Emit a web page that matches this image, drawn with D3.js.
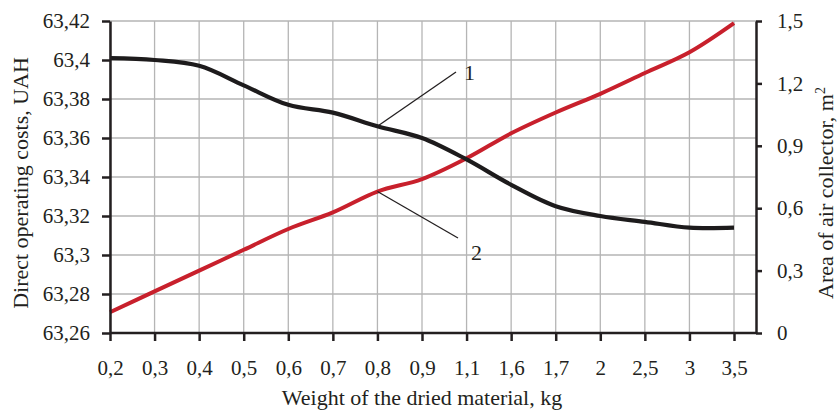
<!DOCTYPE html>
<html>
<head>
<meta charset="utf-8">
<script src="https://cdn.jsdelivr.net/npm/d3@7"></script>
<style>
  body { margin: 0; background: #fff; }
  svg text { font-family: "Liberation Serif", "Times New Roman", serif; fill: #231f20; }
  .grid line { stroke: #b5b5b5; stroke-width: 1.3; }
  .axis path, .axis line { stroke: #231f20; stroke-width: 2.5; }
  .axis text { font-size: 21px; }
  .axis-label { font-size: 22px; }
  .curve-label { font-size: 22px; }
</style>
</head>
<body>
<div id="chart"></div>
<script>
// weight of the dried material, kg
const weights = ["0,2", "0,3", "0,4", "0,5", "0,6", "0,7", "0,8", "0,9", "1,1", "1,6", "1,7", "2", "2,5", "3", "3,5"];
// curve 1: direct operating costs, UAH
const costs = [63.401, 63.400, 63.397, 63.387, 63.377, 63.373, 63.366, 63.360, 63.349, 63.336, 63.325, 63.320, 63.317, 63.314, 63.314];
// curve 2: area of air collector, m2
const areas = [0.10, 0.20, 0.30, 0.40, 0.50, 0.58, 0.68, 0.74, 0.84, 0.96, 1.06, 1.15, 1.25, 1.35, 1.49];

const costTicks = [63.26, 63.28, 63.3, 63.32, 63.34, 63.36, 63.38, 63.4, 63.42];
const areaTicks = [0, 0.3, 0.6, 0.9, 1.2, 1.5];

const W = 838, H = 411;
const plot = { left: 110, right: 756, top: 21, bottom: 333 };
const lastX = 734;

const comma = v => d3.format("~f")(+v.toFixed(2)).replace(".", ",");

const svg = d3.select("#chart").append("svg")
  .attr("width", W)
  .attr("height", H);

const x = d3.scalePoint()
  .domain(weights)
  .range([plot.left, lastX]);

const yCost = d3.scaleLinear()
  .domain([63.26, 63.42])
  .range([plot.bottom, plot.top]);

const yArea = d3.scaleLinear()
  .domain([0, 1.5])
  .range([plot.bottom, plot.top]);

// grid
const grid = svg.append("g").attr("class", "grid");
grid.selectAll(".hg")
  .data(costTicks)
  .join("line")
    .attr("x1", plot.left)
    .attr("x2", plot.right)
    .attr("y1", d => yCost(d))
    .attr("y2", d => yCost(d));
grid.selectAll(".vg")
  .data(weights)
  .join("line")
    .attr("x1", d => x(d))
    .attr("x2", d => x(d))
    .attr("y1", plot.top)
    .attr("y2", plot.bottom);

// lines
const line = (ys, vals) => d3.line()
  .x((d, i) => x(weights[i]))
  .y(d => ys(d))
  .curve(d3.curveCatmullRom.alpha(0.5))(vals);

svg.append("path")
  .attr("d", line(yArea, areas))
  .attr("fill", "none")
  .attr("stroke", "#c8202c")
  .attr("stroke-width", 4);

svg.append("path")
  .attr("d", line(yCost, costs))
  .attr("fill", "none")
  .attr("stroke", "#1d1b1c")
  .attr("stroke-width", 4.2);

// axes
const xAxis = svg.append("g")
  .attr("class", "axis")
  .attr("transform", `translate(0,${plot.bottom})`)
  .call(d3.axisBottom(x).tickSize(8).tickPadding(19).tickSizeOuter(0));
xAxis.select(".domain").attr("d", `M${plot.left},0H${plot.right}`);

svg.append("g")
  .attr("class", "axis")
  .attr("transform", `translate(${plot.left},0)`)
  .call(d3.axisLeft(yCost).tickValues(costTicks).tickFormat(comma)
    .tickSize(8).tickPadding(12).tickSizeOuter(0));

svg.append("g")
  .attr("class", "axis")
  .attr("transform", `translate(${plot.right},0)`)
  .call(d3.axisRight(yArea).tickValues(areaTicks).tickFormat(comma)
    .tickSize(6).tickPadding(15).tickSizeOuter(0));

// axis titles
svg.append("text")
  .attr("class", "axis-label")
  .attr("x", 422)
  .attr("y", 405)
  .attr("text-anchor", "middle")
  .text("Weight of the dried material, kg");

svg.append("text")
  .attr("class", "axis-label")
  .attr("transform", "translate(28,183) rotate(-90)")
  .attr("text-anchor", "middle")
  .text("Direct operating costs, UAH");

const rt = svg.append("text")
  .attr("class", "axis-label")
  .attr("transform", "translate(833,193) rotate(-90)")
  .attr("text-anchor", "middle");
rt.append("tspan").text("Area of air collector, m");
rt.append("tspan").attr("dy", -8).style("font-size", "14px").text("2");

// curve labels with leader lines
const p1 = [x("0,8"), yCost(costs[6])];
const p2 = [x("0,8"), yArea(areas[6])];

svg.append("line")
  .attr("x1", p1[0]).attr("y1", p1[1])
  .attr("x2", 456).attr("y2", 72)
  .attr("stroke", "#231f20").attr("stroke-width", 1.3);
svg.append("text")
  .attr("class", "curve-label")
  .attr("x", 464).attr("y", 80)
  .text("1");

svg.append("line")
  .attr("x1", p2[0]).attr("y1", p2[1])
  .attr("x2", 458).attr("y2", 238)
  .attr("stroke", "#231f20").attr("stroke-width", 1.3);
svg.append("text")
  .attr("class", "curve-label")
  .attr("x", 471).attr("y", 260)
  .text("2");
</script>
</body>
</html>
